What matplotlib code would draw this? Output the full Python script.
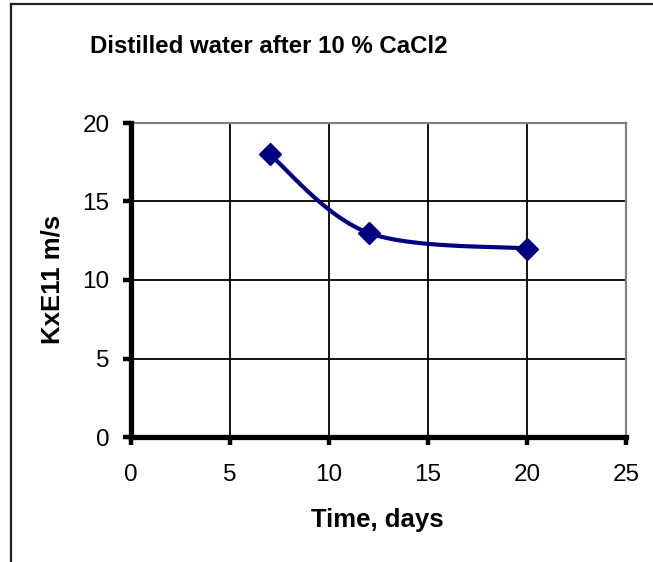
import numpy as np
import matplotlib
matplotlib.use("Agg")
import matplotlib.pyplot as plt
from matplotlib.lines import Line2D
from matplotlib import font_manager

plt.rcParams['font.family'] = ['Liberation Sans', 'DejaVu Sans']

# data
days = [7, 12, 20]
k_values = [18, 13, 12]
x_ticks = [0, 5, 10, 15, 20, 25]
y_ticks = [0, 5, 10, 15, 20]
title = "Distilled water after 10 % CaCl2"
xlabel = "Time, days"
ylabel = "KxE11 m/s"


def smooth_curve(xs, ys, n=60):
    # Excel-like smoothed line (cardinal Bezier between points)
    xs = np.asarray(xs, float)
    ys = np.asarray(ys, float)
    px, py = [], []
    m = len(xs)
    for i in range(m - 1):
        x0, y0 = (xs[i - 1], ys[i - 1]) if i > 0 else (xs[i], ys[i])
        x1, y1 = xs[i], ys[i]
        x2, y2 = xs[i + 1], ys[i + 1]
        x3, y3 = (xs[i + 2], ys[i + 2]) if i + 2 < m else (xs[i + 1], ys[i + 1])
        c1x, c1y = x1 + (x2 - x0) / 6, y1 + (y2 - y0) / 6
        c2x, c2y = x2 - (x3 - x1) / 6, y2 - (y3 - y1) / 6
        t = np.linspace(0, 1, n)
        bx = (1 - t) ** 3 * x1 + 3 * (1 - t) ** 2 * t * c1x + 3 * (1 - t) * t ** 2 * c2x + t ** 3 * x2
        by = (1 - t) ** 3 * y1 + 3 * (1 - t) ** 2 * t * c1y + 3 * (1 - t) * t ** 2 * c2y + t ** 3 * y2
        px.extend(bx)
        py.extend(by)
    return np.array(px), np.array(py)


installed = {f.name for f in font_manager.fontManager.ttflist}
if 'Liberation Sans Narrow' in installed:
    title_family, title_size = ['Liberation Sans Narrow', 'DejaVu Sans'], 20.5
else:
    title_family, title_size = ['Liberation Sans', 'DejaVu Sans'], 17.3

W, H = 653, 562
fig = plt.figure(figsize=(W / 100, H / 100), dpi=100)
ax = fig.add_axes([131 / W, 1 - 437 / H, (626 - 131) / W, (437 - 123) / H])

sx, sy = smooth_curve(days, k_values)
ax.plot(sx, sy, color='#000080', lw=3.0, solid_capstyle='round', zorder=3)
ax.plot(days, k_values, linestyle='none', marker='D', markersize=11.5,
        color='#000080', markeredgecolor='#000080', zorder=4)

ax.set_xlim(0, 25)
ax.set_ylim(0, 20)
ax.set_xticks(x_ticks)
ax.set_yticks(y_ticks)
ax.set_xticklabels([str(v) for v in x_ticks])
ax.set_yticklabels([str(v) for v in y_ticks])
ax.grid(True, color='black', lw=1.3)
ax.set_axisbelow(True)

for s in ['left', 'bottom']:
    ax.spines[s].set_linewidth(3.8)
    ax.spines[s].set_color('black')
    ax.spines[s].set_zorder(5)
for s in ['top', 'right']:
    ax.spines[s].set_linewidth(1.6)
    ax.spines[s].set_color('#808080')

ax.tick_params(axis='both', direction='out', length=5.5, width=3.2, color='black',
               labelsize=17.5, colors='black')
ax.tick_params(axis='y', pad=10)
ax.tick_params(axis='x', pad=14)

fig.text(377 / W, 1 - 527 / H, xlabel, fontsize=18.5, fontweight='bold',
         ha='center', va='baseline')
fig.text(53 / W, 1 - 279 / H, ylabel, fontsize=18.5, fontweight='bold',
         ha='center', va='center', rotation=90)
fig.text(269 / W, 1 - 53 / H, title, fontsize=title_size, fontweight='bold',
         family=title_family, ha='center', va='baseline')

# chart area border (top and left only)
fig.add_artist(Line2D([11 / W, 1], [1 - 4 / H, 1 - 4 / H], transform=fig.transFigure,
                      color='#222222', lw=1.6))
fig.add_artist(Line2D([11 / W, 11 / W], [0, 1 - 4 / H], transform=fig.transFigure,
                      color='#222222', lw=1.6))

fig.savefig('out.png', dpi=100)
